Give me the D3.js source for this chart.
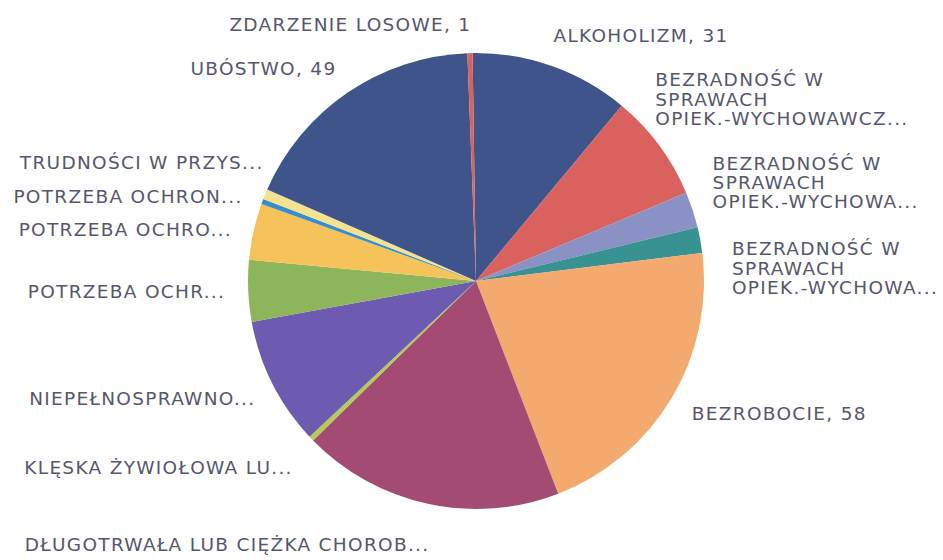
<!DOCTYPE html>
<html>
<head>
<meta charset="utf-8">
<script src="https://cdn.jsdelivr.net/npm/d3@7"></script>
<style>
    body { margin: 0; background: #fff; }
    svg text { font-family: "DejaVu Sans", sans-serif; font-size: 18.5px; fill: #56576c; letter-spacing: 1.3px; }
</style>
</head>
<body>
<svg id="chart" width="943" height="560"></svg>
<script>
// categories (labels as shown, multi-line ones split with |)
var categories = [
    "ALKOHOLIZM, 31",
    "BEZRADNOŚĆ W|SPRAWACH|OPIEK.-WYCHOWAWCZ...",
    "BEZRADNOŚĆ W|SPRAWACH|OPIEK.-WYCHOWA...",
    "BEZRADNOŚĆ W|SPRAWACH|OPIEK.-WYCHOWA...",
    "BEZROBOCIE, 58",
    "DŁUGOTRWAŁA LUB CIĘŻKA CHOROB...",
    "KLĘSKA ŻYWIOŁOWA LU...",
    "NIEPEŁNOSPRAWNO...",
    "POTRZEBA OCHR...",
    "POTRZEBA OCHRO...",
    "POTRZEBA OCHRON...",
    "TRUDNOŚCI W PRZYS...",
    "UBÓSTWO, 49",
    "ZDARZENIE LOSOWE, 1"
];
var values = [31, 21, 7, 5, 58, 51, 1, 25, 12, 11, 1, 2, 49, 1];
var colors = ["#3f548a", "#d9625f", "#8a91c5", "#389292", "#f4a96e", "#a44b74", "#b3cd52",
              "#6c5bb0", "#8db55c", "#f5c35a", "#3a8dcb", "#f3e391", "#3f548a", "#d9625f"];

// small nudges where the labels were pushed away from their slice
var labelNudge = [[-5, -12], [-20, -34], [1, -21], [12, 32], [3, 5], [6, 21], [-4, 15],
                  [1, 6], [-3, 0], [-2, 2], [-1, 2], [17, -24], [0, -7], [2, -9]];

var cx = 476, cy = 281, r = 228;
var svg = d3.select('#chart');
var g = svg.append('g').attr('transform', 'translate(' + cx + ',' + cy + ')');

var pie = d3.pie().sort(null).startAngle(-0.015).endAngle(2 * Math.PI - 0.015);
var arcs = pie(values);
var arc = d3.arc().innerRadius(0).outerRadius(r);
var labelArc = d3.arc().innerRadius(r + 20).outerRadius(r + 20);

g.selectAll('path.slice')
    .data(arcs)
    .enter().append('path')
    .attr('class', 'slice')
    .attr('d', arc)
    .attr('fill', function(d, i) { return colors[i]; });

var labels = g.selectAll('text.lbl')
    .data(arcs)
    .enter().append('text')
    .attr('class', 'lbl')
    .attr('transform', function(d, i) {
        var p = labelArc.centroid(d);
        return 'translate(' + (p[0] + labelNudge[i][0]) + ',' + (p[1] + labelNudge[i][1]) + ')';
    })
    .attr('text-anchor', function(d) {
        var mid = (d.startAngle + d.endAngle) / 2;
        return Math.sin(mid) >= 0 ? 'start' : 'end';
    });

labels.each(function(d, i) {
    var lines = categories[i].split('|');
    var t = d3.select(this);
    var start = -(lines.length - 1) / 2 * 19.5;
    lines.forEach(function(line, j) {
        t.append('tspan')
            .attr('x', 0)
            .attr('y', start + j * 19.5)
            .attr('dy', '0.35em')
            .text(line);
    });
});
</script>
</body>
</html>
